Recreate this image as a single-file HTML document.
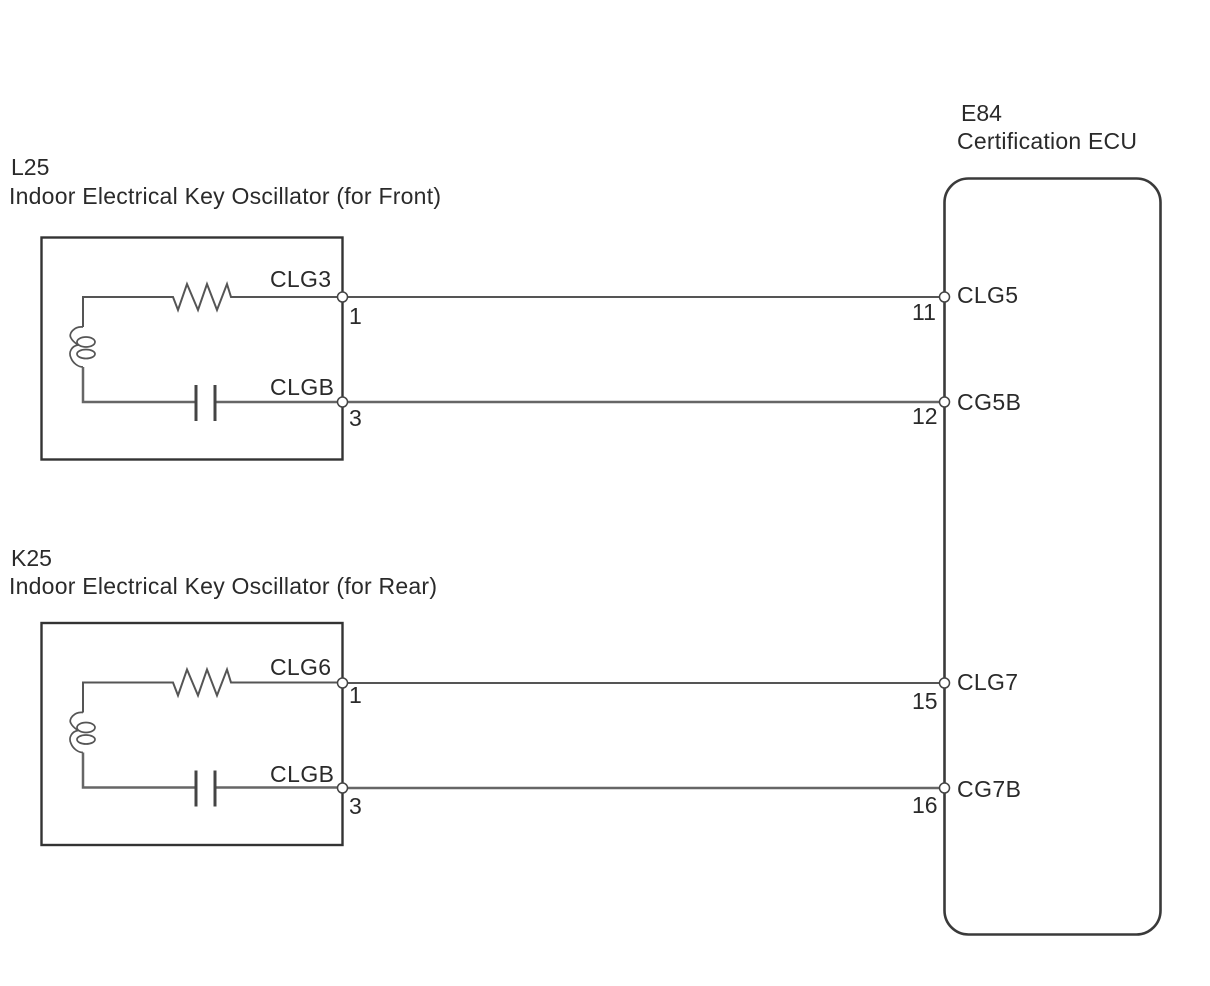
<!DOCTYPE html>
<html>
<head>
<meta charset="utf-8">
<style>
html,body{margin:0;padding:0;background:#fff;}
svg{display:block;filter:blur(0.35px);}
text{font-family:"Liberation Sans",sans-serif;font-size:23px;fill:#2a2a2a;}
</style>
</head>
<body>
<svg width="1210" height="986" viewBox="0 0 1210 986" xmlns="http://www.w3.org/2000/svg">
<defs>
<g id="inner" fill="none">
  <path d="M342 297H231L227 284L217 310L207 284L198 310L187 284L178 310L173 297H83V327" stroke="#555" stroke-width="2"/>
  <path d="M83 327C74 326 68 334 71 338C73 342 77 344 78 345C72 346 68 352 71 358C73 363 78 367 83 367" stroke="#555" stroke-width="1.7"/>
  <ellipse cx="86" cy="342" rx="9" ry="5" stroke="#555" stroke-width="1.7"/>
  <ellipse cx="86" cy="354" rx="9" ry="4.5" stroke="#555" stroke-width="1.7"/>
  <path d="M83 367V402H196M215 402H342" stroke="#666" stroke-width="2.5"/>
  <path d="M196 385V421M215 385V421" stroke="#444" stroke-width="3"/>
</g>
</defs>

<rect x="41.5" y="237.5" width="301" height="222" fill="none" stroke="#333" stroke-width="2.4"/>
<rect x="41.5" y="623" width="301" height="222" fill="none" stroke="#333" stroke-width="2.4"/>
<rect x="944.5" y="178.5" width="216" height="756" rx="24" ry="24" fill="none" stroke="#3a3a3a" stroke-width="2.6"/>

<use href="#inner"/>
<use href="#inner" y="385.5"/>

<path d="M342 297H944" stroke="#555" stroke-width="2"/>
<path d="M342 402H944" stroke="#666" stroke-width="2.5"/>
<path d="M342 683H944" stroke="#555" stroke-width="2"/>
<path d="M342 788H944" stroke="#666" stroke-width="2.5"/>

<g fill="#fff" stroke="#444" stroke-width="1.5">
  <circle cx="342.5" cy="297" r="5"/>
  <circle cx="342.5" cy="402" r="5"/>
  <circle cx="342.5" cy="683" r="5"/>
  <circle cx="342.5" cy="788" r="5"/>
  <circle cx="944.5" cy="297" r="5"/>
  <circle cx="944.5" cy="402" r="5"/>
  <circle cx="944.5" cy="683" r="5"/>
  <circle cx="944.5" cy="788" r="5"/>
</g>

<text x="961" y="121">E84</text>
<text x="957" y="149" textLength="180">Certification ECU</text>
<text x="11" y="175">L25</text>
<text x="9" y="204" textLength="432">Indoor Electrical Key Oscillator (for Front)</text>
<text x="11" y="566">K25</text>
<text x="9" y="594" textLength="428">Indoor Electrical Key Oscillator (for Rear)</text>

<text x="270" y="287" textLength="61">CLG3</text>
<text x="270" y="395" textLength="64">CLGB</text>
<text x="270" y="675" textLength="61">CLG6</text>
<text x="270" y="782" textLength="64">CLGB</text>

<text x="349" y="324">1</text>
<text x="349" y="426">3</text>
<text x="349" y="703">1</text>
<text x="349" y="814">3</text>

<text x="912" y="320">11</text>
<text x="912" y="424">12</text>
<text x="912" y="709">15</text>
<text x="912" y="813">16</text>

<text x="957" y="303" textLength="61">CLG5</text>
<text x="957" y="410" textLength="64">CG5B</text>
<text x="957" y="690" textLength="61">CLG7</text>
<text x="957" y="797" textLength="64">CG7B</text>
</svg>
</body>
</html>
